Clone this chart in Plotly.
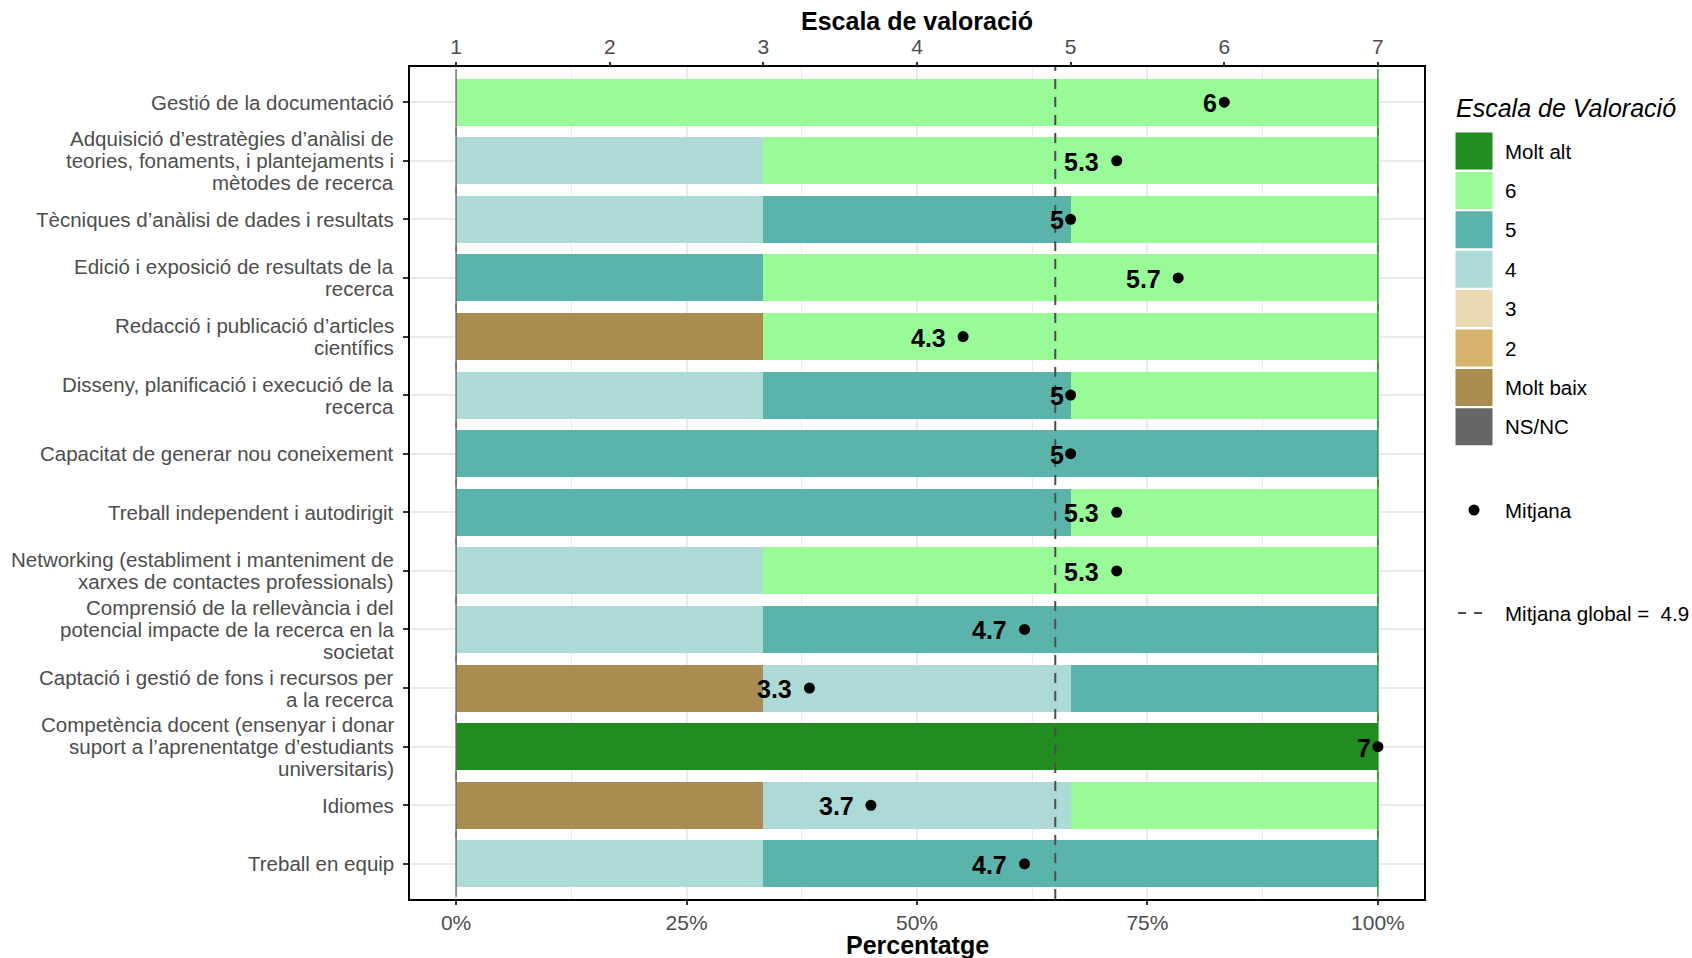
import plotly.graph_objects as go

# ---------------- data ----------------
categories = [
    "Gestió de la documentació",
    "Adquisició d’estratègies d’anàlisi de<br>teories, fonaments, i plantejaments i<br>mètodes de recerca",
    "Tècniques d’anàlisi de dades i resultats",
    "Edició i exposició de resultats de la<br>recerca",
    "Redacció i publicació d’articles<br>científics",
    "Disseny, planificació i execució de la<br>recerca",
    "Capacitat de generar nou coneixement",
    "Treball independent i autodirigit",
    "Networking (establiment i manteniment de<br>xarxes de contactes professionals)",
    "Comprensió de la rellevància i del<br>potencial impacte de la recerca en la<br>societat",
    "Captació i gestió de fons i recursos per<br>a la recerca",
    "Competència docent (ensenyar i donar<br>suport a l’aprenentatge d’estudiants<br>universitaris)",
    "Idiomes",
    "Treball en equip",
]

levels = ["NS/NC", "Molt baix", "2", "3", "4", "5", "6", "Molt alt"]
level_colors = ["#666666", "#AB8C50", "#D8B36D", "#EBD9B3", "#ADD9D6", "#5AB4AC", "#98FB98", "#228B22"]

pct_nsnc      = [0, 0, 0, 0, 0, 0, 0, 0, 0, 0, 0, 0, 0, 0]
pct_molt_baix = [0, 0, 0, 0, 33.33, 0, 0, 0, 0, 0, 33.33, 0, 33.33, 0]
pct_2         = [0, 0, 0, 0, 0, 0, 0, 0, 0, 0, 0, 0, 0, 0]
pct_3         = [0, 0, 0, 0, 0, 0, 0, 0, 0, 0, 0, 0, 0, 0]
pct_4         = [0, 33.33, 33.33, 0, 0, 33.33, 0, 0, 33.33, 33.33, 33.33, 0, 33.33, 33.33]
pct_5         = [0, 0, 33.33, 33.33, 0, 33.33, 100, 66.67, 0, 66.67, 33.34, 0, 0, 66.67]
pct_6         = [100, 66.67, 33.34, 66.67, 66.67, 33.34, 0, 33.33, 66.67, 0, 0, 0, 33.34, 0]
pct_molt_alt  = [0, 0, 0, 0, 0, 0, 0, 0, 0, 0, 0, 100, 0, 0]

series = [pct_nsnc, pct_molt_baix, pct_2, pct_3, pct_4, pct_5, pct_6, pct_molt_alt]

means = [6, 5.3, 5, 5.7, 4.3, 5, 5, 5.3, 5.3, 4.7, 3.3, 7, 3.7, 4.7]
global_mean = 4.9

pct_ticks = [0, 25, 50, 75, 100]
scale_ticks = [1, 2, 3, 4, 5, 6, 7]

# ---------------- layout geometry ----------------
W, H = 1692, 958
PX_L, PX_R, PX_T, PX_B = 410, 1424, 67, 899
xdom = [PX_L / W, PX_R / W]
ydom = [1 - PX_B / H, 1 - PX_T / H]
FONT = "Liberation Sans, Arial, Helvetica, sans-serif"
GREY_TXT = "#4D4D4D"

x2_range = [0.7, 7.3]
px_per_unit = (PX_R - PX_L) / (x2_range[1] - x2_range[0])
LABEL_SIZE = 25
row_px = (PX_B - PX_T) / (len(categories) + 0.2)


def text_width_px(s, size):
    w = 0.0
    for ch in s:
        w += 0.278 if ch == "." else 0.556
    return w * size


fig = go.Figure()

for name, col, vals in zip(levels, level_colors, series):
    fig.add_trace(go.Bar(
        orientation="h", x=vals, y=categories, name=name,
        marker=dict(color=col, line=dict(width=0)),
        width=0.8, showlegend=False,
        hovertemplate=name + ": %{x:.1f}%<extra></extra>",
    ))

# outlines of the empty end segments (NS/NC at the start, Molt alt at the end)
stack_start = [0 for _ in categories]
stack_end = [sum(s[i] for s in series) for i in range(len(categories))]
fig.add_trace(go.Scatter(
    x=stack_start, y=categories, mode="markers", showlegend=False, hoverinfo="skip",
    marker=dict(symbol="line-ns", size=0.8 * row_px, line=dict(color=level_colors[0], width=1.3)),
))
fig.add_trace(go.Scatter(
    x=stack_end, y=categories, mode="markers", showlegend=False, hoverinfo="skip",
    marker=dict(symbol="line-ns", size=0.8 * row_px, line=dict(color=level_colors[-1], width=1.3)),
))

# mean points
fig.add_trace(go.Scatter(
    x=means, y=categories, xaxis="x2", yaxis="y", mode="markers",
    marker=dict(color="black", size=11), showlegend=False, name="Mitjana",
))

# global mean dashed line
fig.add_shape(type="line", xref="x2", yref="y domain",
              x0=global_mean, x1=global_mean, y0=0, y1=1,
              line=dict(color="#4D4D4D", width=2, dash="10px,8px"), layer="above")

annotations = []

# mean labels (hjust ~ 1.5 like the original)
labels = [f"{m:g}" for m in means]
label_x = [m - text_width_px(l, LABEL_SIZE) / px_per_unit for m, l in zip(means, labels)]
for lx, cat, lbl in zip(label_x, categories, labels):
    annotations.append(dict(
        xref="x2", yref="y", x=lx, y=cat, text=lbl, showarrow=False,
        xanchor="center", yanchor="middle", yshift=-1,
        font=dict(family=FONT, size=LABEL_SIZE, color="black", weight="bold"),
    ))

# category labels (one annotation per line for tighter line spacing)
LINE_H = 22
for cat in categories:
    lines = cat.split("<br>")
    n = len(lines)
    for i, ln in enumerate(lines):
        annotations.append(dict(
            xref="x domain", yref="y", x=0, y=cat, text=ln,
            xanchor="right", yanchor="middle", xshift=-14,
            yshift=((n - 1) / 2 - i) * LINE_H, showarrow=False,
            font=dict(family=FONT, size=20.5, color=GREY_TXT),
        ))

# axis titles
annotations.append(dict(xref="paper", yref="paper", x=(PX_L + PX_R) / 2 / W, y=1 - 21 / H,
                        text="Escala de valoració", showarrow=False, xanchor="center", yanchor="middle",
                        font=dict(family=FONT, size=25, color="black", weight="bold")))
annotations.append(dict(xref="paper", yref="paper", x=(PX_L + PX_R) / 2 / W, y=1 - 945 / H,
                        text="Percentatge", showarrow=False, xanchor="center", yanchor="middle",
                        font=dict(family=FONT, size=25, color="black", weight="bold")))

# ---------------- custom legend ----------------
KEY_X, LBL_X = 1474, 1503
key_y0, key_step = 151, 39.4
legend_order = list(reversed(levels))
legend_cols = list(reversed(level_colors))
key_ys = [key_y0 + i * key_step for i in range(len(legend_order))]

fig.add_trace(go.Scatter(
    x=[KEY_X] * len(legend_order), y=key_ys, xaxis="x3", yaxis="y3", mode="markers",
    marker=dict(symbol="square", size=37, color=legend_cols, line=dict(width=0)),
    showlegend=False, hoverinfo="skip",
))
for name, yy in zip(legend_order, key_ys):
    annotations.append(dict(xref="x3", yref="y3", x=LBL_X, y=yy, text=name, showarrow=False,
                            xanchor="left", yanchor="middle",
                            font=dict(family=FONT, size=20.5, color="black")))
annotations.append(dict(xref="x3", yref="y3", x=1454, y=108, text="Escala de Valoració", showarrow=False,
                        xanchor="left", yanchor="middle",
                        font=dict(family=FONT, size=25, color="black", style="italic")))

MEAN_KEY_Y, GLOB_KEY_Y = 510, 613
fig.add_trace(go.Scatter(
    x=[KEY_X], y=[MEAN_KEY_Y], xaxis="x3", yaxis="y3", mode="markers",
    marker=dict(color="black", size=11), showlegend=False, hoverinfo="skip",
))
annotations.append(dict(xref="x3", yref="y3", x=LBL_X, y=MEAN_KEY_Y, text="Mitjana", showarrow=False,
                        xanchor="left", yanchor="middle", font=dict(family=FONT, size=20.5, color="black")))
fig.add_trace(go.Scatter(
    x=[KEY_X - 16, KEY_X + 16], y=[GLOB_KEY_Y, GLOB_KEY_Y], xaxis="x3", yaxis="y3", mode="lines",
    line=dict(color="#4D4D4D", width=2, dash="8px,8px"), showlegend=False, hoverinfo="skip",
))
annotations.append(dict(xref="x3", yref="y3", x=LBL_X, y=GLOB_KEY_Y,
                        text=f"Mitjana global = \u00a0{global_mean:g}", showarrow=False,
                        xanchor="left", yanchor="middle", font=dict(family=FONT, size=20.5, color="black")))

fig.update_layout(
    width=W, height=H,
    margin=dict(l=0, r=0, t=0, b=0),
    paper_bgcolor="white", plot_bgcolor="white",
    barmode="stack", bargap=0.2,
    font=dict(family=FONT),
    xaxis=dict(
        domain=xdom, range=[-5, 105], tickmode="array", tickvals=pct_ticks,
        ticktext=[f"{v}%" for v in pct_ticks],
        ticks="outside", ticklen=4, tickwidth=1.5, tickcolor="#333333",
        tickfont=dict(family=FONT, size=21, color=GREY_TXT),
        showgrid=True, gridcolor="#EBEBEB", gridwidth=1.5,
        minor=dict(tick0=0, dtick=12.5, showgrid=True, gridcolor="#EBEBEB", gridwidth=1, ticks=""),
        showline=True, linecolor="black", linewidth=2, mirror=True,
        zeroline=False, anchor="y", fixedrange=True,
    ),
    xaxis2=dict(
        overlaying="x", side="top", range=x2_range, tickmode="array", tickvals=scale_ticks,
        ticks="outside", ticklen=4, tickwidth=1.5, tickcolor="#333333",
        tickfont=dict(family=FONT, size=21, color=GREY_TXT),
        showgrid=False, showline=False, zeroline=False, anchor="y", fixedrange=True,
    ),
    yaxis=dict(
        domain=ydom, type="category", categoryorder="array", categoryarray=categories,
        range=[len(categories) - 0.4, -0.6],
        ticks="outside", ticklen=5, tickwidth=1.5, tickcolor="#333333",
        showticklabels=False,
        showgrid=True, gridcolor="#EBEBEB", gridwidth=1.5,
        showline=True, linecolor="black", linewidth=2, mirror=True,
        zeroline=False, anchor="x", fixedrange=True,
    ),
    xaxis3=dict(domain=[1430 / W, 1], range=[1430, W], visible=False, anchor="y3", fixedrange=True),
    yaxis3=dict(domain=[0, 1], range=[H, 0], visible=False, anchor="x3", fixedrange=True),
    annotations=annotations,
    showlegend=False,
)

fig.write_html(
    "out.html",
    config={"displayModeBar": False},
    post_script="document.body.style.margin='0px';document.body.style.overflow='hidden';",
)
